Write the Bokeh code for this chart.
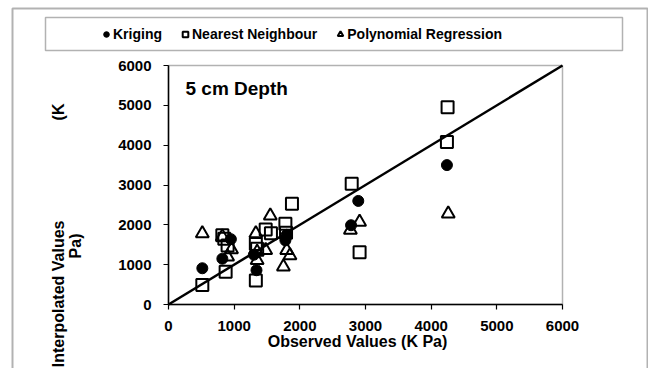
import math
from bokeh.plotting import figure
from bokeh.models import (FixedTicker, Label, BoxAnnotation, Legend, LegendItem)
from bokeh.embed import file_html
from bokeh.resources import INLINE

# ---- data (kPa) ----
krig_obs = [515, 820, 950, 1300, 1340, 1780, 1800, 2780, 2890, 4240]
krig_int = [910, 1150, 1640, 1250, 860, 1610, 1750, 1990, 2600, 3500]

nn_obs = [515, 820, 850, 900, 870, 1330, 1330, 1350, 1480, 1560, 1780, 1790, 1880, 2790, 2910, 4250, 4240]
nn_int = [490, 1740, 1650, 1480, 820, 600, 1520, 1400, 1880, 1790, 2030, 1800, 2530, 3030, 1310, 4950, 4080]

poly_obs = [515, 820, 960, 900, 1330, 1350, 1350, 1480, 1550, 1800, 1850, 1750, 2770, 2910, 4260]
poly_int = [1780, 1700, 1380, 1200, 1780, 1320, 1110, 1360, 2230, 1360, 1230, 950, 1870, 2070, 2280]

line_x = [0, 6000]
line_y = [0, 6000]

ticks = [0, 1000, 2000, 3000, 4000, 5000, 6000]

series_names = ["Kriging", "Nearest Neighbour", "Polynomial Regression"]
x_title = "Observed Values (K Pa)"
y_title_parts = ["Interpolated Values", "(K", "Pa)"]
chart_note = "5 cm Depth"

FONT = "Liberation Sans"

# ---- layout: plot area (ticks[0]..ticks[-1]) placed in page pixels ----
W, H = 648, 368
PL, PR, PT, PB = 168, 562, 65, 304          # plot-area pixel edges
lo, hi = ticks[0], ticks[-1]


def X(px):
    return lo + (px - PL) / (PR - PL) * (hi - lo)


def Y(py):
    return lo + (PB - py) / (PB - PT) * (hi - lo)


p = figure(width=W, height=H, x_range=(X(0), X(W)), y_range=(Y(H), Y(0)),
           output_backend="svg", toolbar_location=None,
           min_border_left=0, min_border_right=0,
           min_border_top=0, min_border_bottom=0,
           background_fill_color="white", border_fill_color="white")

p.xgrid.visible = False
p.ygrid.visible = False
p.outline_line_color = None

for ax in (p.xaxis[0], p.yaxis[0]):
    ax.fixed_location = lo
    ax.bounds = (lo, hi)
    ax.ticker = FixedTicker(ticks=ticks)
    ax.axis_line_color = "black"
    ax.axis_line_width = 1.5
    ax.major_tick_line_color = "black"
    ax.major_tick_line_width = 1.2
    ax.major_tick_in = 0
    ax.major_tick_out = 5
    ax.minor_tick_line_color = None
    ax.major_label_text_font = FONT
    ax.major_label_text_font_style = "bold"
    ax.major_label_text_font_size = "15px"
    ax.major_label_text_color = "black"

p.xaxis[0].major_label_standoff = 11
p.yaxis[0].major_label_standoff = 12

# plot-area border (top / right edges)
p.add_layout(BoxAnnotation(left=lo, right=hi, bottom=lo, top=hi,
                           fill_color=None, line_color="black", line_width=1.5))

# 1:1 line
p.line(line_x, line_y, line_color="black", line_width=2.5)

r_k = p.scatter(krig_obs, krig_int, marker="circle", size=11,
                fill_color="black", line_color="black")
r_n = p.scatter(nn_obs, nn_int, marker="square", size=12,
                fill_color=None, line_color="black", line_width=2)
r_p = p.scatter(poly_obs, poly_int, marker="triangle", size=13,
                fill_color=None, line_color="black", line_width=2)

# legend box and outer chart frame
p.add_layout(BoxAnnotation(left=X(45), right=X(622), top=Y(17), bottom=Y(50),
                           fill_color=None, line_color="black", line_width=1.5))
p.add_layout(BoxAnnotation(left=X(12), right=X(647), top=Y(8), bottom=Y(390),
                           fill_color=None, line_color="black", line_width=2))

legend = Legend(items=[LegendItem(label=series_names[0], renderers=[r_k]),
                       LegendItem(label=series_names[1], renderers=[r_n]),
                       LegendItem(label=series_names[2], renderers=[r_p])],
                orientation="horizontal", location=(99, H - 42),
                glyph_width=14, glyph_height=14, label_standoff=0,
                spacing=16, padding=0, margin=0,
                border_line_color=None, background_fill_alpha=0,
                label_text_font=FONT, label_text_font_style="bold",
                label_text_font_size="14px", label_text_color="black")
p.add_layout(legend, "center")

txt = dict(text_font=FONT, text_font_style="bold", text_color="black")

# y-axis title (wrapped as in the original)
ystyle = dict(angle=math.pi / 2, text_align="right", text_baseline="middle",
              text_font_size="16px", **txt)
p.add_layout(Label(x=X(58), y=Y(220), text=y_title_parts[0], **ystyle))
p.add_layout(Label(x=X(58), y=Y(103), text=y_title_parts[1], **ystyle))
p.add_layout(Label(x=X(75), y=Y(233), text=y_title_parts[2], **ystyle))

# x-axis title
p.add_layout(Label(x=X(357), y=Y(341), text=x_title, text_align="center",
                   text_baseline="middle", text_font_size="16px", **txt))

# in-chart note
p.add_layout(Label(x=X(185), y=Y(88), text=chart_note, text_align="left",
                   text_baseline="middle", text_font_size="19px", **txt))

open("out.html", "w").write(file_html(p, INLINE))
